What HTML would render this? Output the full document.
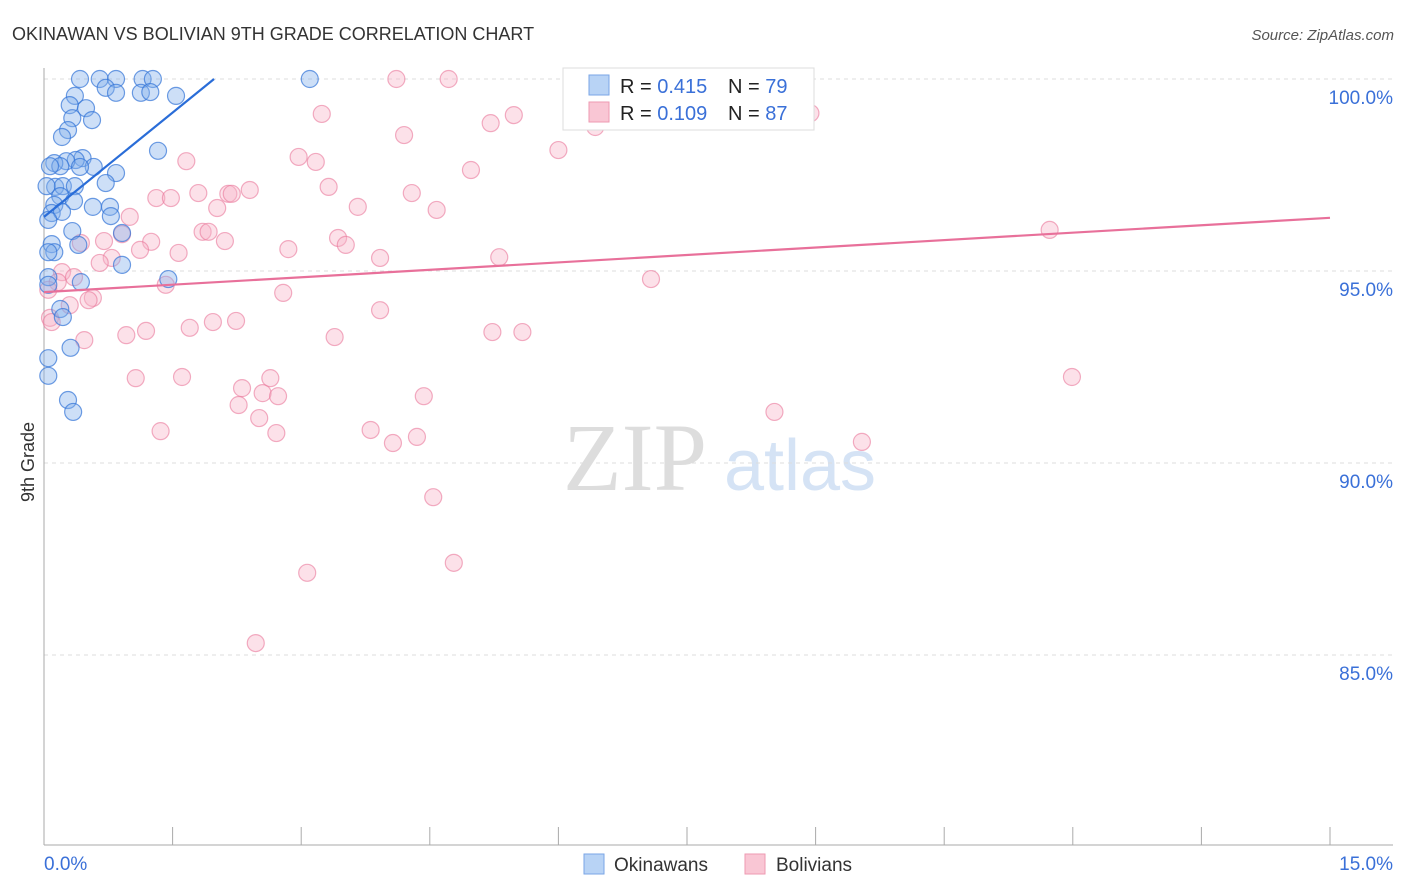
<!DOCTYPE html>
<html><head><meta charset="utf-8">
<style>
body{margin:0;background:#fff;font-family:"Liberation Sans",sans-serif;}
#wrap{position:relative;width:1406px;height:892px;overflow:hidden;}
</style></head>
<body>
<div id="wrap">
<svg id="svg" width="1406" height="892" xmlns="http://www.w3.org/2000/svg">
<text x="12" y="40" font-size="18" fill="#333">OKINAWAN VS BOLIVIAN 9TH GRADE CORRELATION CHART</text>
<text x="1394" y="40" font-size="15" fill="#555" font-style="italic" text-anchor="end">Source: ZipAtlas.com</text>
<text x="34" y="462" font-size="18" fill="#333" text-anchor="middle" transform="rotate(-90 34 462)">9th Grade</text>
<g>
<text x="635" y="490" font-size="96" fill="#ddd" text-anchor="middle" font-family="Liberation Serif, serif">ZIP</text>
<text x="800" y="490" font-size="72" fill="#d5e3f5" text-anchor="middle">atlas</text>
</g>
<g id="grid"></g>
<g id="axes"></g>
<g id="pts"></g>
<g id="lines"></g>
<g>
<rect x="563" y="68" width="251" height="62" fill="#fff" stroke="#ddd"/>
<rect x="589" y="75" width="20" height="20" fill="#b8d3f5" stroke="#7aa6e6"/>
<text x="620" y="93" font-size="20" fill="#222">R = <tspan fill="#3a70d8">0.415</tspan></text>
<text x="728" y="93" font-size="20" fill="#222">N = <tspan fill="#3a70d8">79</tspan></text>
<rect x="589" y="102" width="20" height="20" fill="#f9c6d4" stroke="#ee9ab2"/>
<text x="620" y="120" font-size="20" fill="#222">R = <tspan fill="#3a70d8">0.109</tspan></text>
<text x="728" y="120" font-size="20" fill="#222">N = <tspan fill="#3a70d8">87</tspan></text>
</g>
<g>
<rect x="584" y="854" width="20" height="20" fill="#b8d3f5" stroke="#7aa6e6"/>
<text x="614" y="871" font-size="19" fill="#333">Okinawans</text>
<rect x="745" y="854" width="20" height="20" fill="#f9c6d4" stroke="#ee9ab2"/>
<text x="776" y="871" font-size="19" fill="#333">Bolivians</text>
</g>
</svg>
</div>
<script>
const yTicks=[100,95,90,85];
const yTickLabels=["100.0%","95.0%","90.0%","85.0%"];
const xTickVals=[0,1.5,3,4.5,6,7.5,9,10.5,12,13.5,15];
const xEndLabels=["0.0%","15.0%"];
const blueX=[0.42,0.65,0.84,1.15,1.27,3.10,0.72,0.84,1.13,1.24,1.54,0.36,0.30,0.49,0.56,0.33,0.28,0.21,1.33,0.45,0.37,0.26,0.12,0.19,0.58,0.42,0.84,0.72,0.13,0.22,0.36,0.19,0.35,0.12,0.57,0.77,0.09,0.21,0.78,0.05,0.33,0.91,0.40,0.09,0.12,0.05,0.91,1.45,0.43,0.05,0.05,0.19,0.22,0.31,0.05,0.05,0.28,0.34,0.07,0.03];
const blueY=[100,100,100,100,100,100,99.77,99.64,99.64,99.66,99.56,99.56,99.32,99.24,98.93,98.98,98.67,98.49,98.13,97.94,97.89,97.86,97.81,97.73,97.71,97.71,97.55,97.29,97.19,97.21,97.21,96.95,96.82,96.72,96.67,96.67,96.51,96.54,96.43,96.33,96.04,95.99,95.68,95.70,95.49,95.49,95.16,94.79,94.71,94.84,94.64,94.01,93.80,93.00,92.73,92.27,91.64,91.33,97.73,97.21];
const pinkX=[6.36,4.11,4.72,8.08,8.94,3.24,5.48,5.21,4.20,6.43,6.00,1.66,2.97,3.17,4.98,3.32,4.29,2.40,1.80,2.15,2.19,1.31,1.48,3.66,2.02,4.58,1.00,0.91,1.85,1.92,3.43,1.25,0.70,0.43,2.11,3.52,2.85,1.12,1.57,0.79,3.92,5.31,0.65,0.21,0.35,0.16,1.42,2.79,0.57,0.52,0.30,0.07,0.09,0.47,0.96,1.19,1.70,1.97,2.24,3.39,5.23,5.58,3.92,7.08,11.73,1.07,1.61,2.31,2.64,2.55,2.73,2.27,4.43,2.51,3.81,2.71,1.36,4.07,4.35,8.52,9.54,11.99,4.54,3.07,4.78,2.47,0.05];
const pinkY=[100,100,100,100,99.11,99.09,99.06,98.85,98.54,98.75,98.15,97.86,97.97,97.84,97.63,97.19,97.03,97.11,97.03,97.01,97.01,96.90,96.90,96.67,96.64,96.59,96.41,95.96,96.02,96.02,95.86,95.76,95.78,95.73,95.78,95.68,95.57,95.55,95.47,95.34,95.34,95.36,95.21,94.97,94.84,94.71,94.64,94.43,94.30,94.24,94.11,93.78,93.67,93.20,93.33,93.44,93.52,93.67,93.70,93.28,93.41,93.41,93.98,94.79,96.07,92.21,92.24,91.95,92.21,91.82,91.74,91.51,91.74,91.17,90.86,90.78,90.83,90.52,90.68,91.33,90.55,92.24,89.11,87.14,87.40,85.31,94.51];
const blueTrend=[96.41,1.81];
const pinkTrend=[94.45,0.129];
const NS="http://www.w3.org/2000/svg";
const X=v=>44+v*(1286/15);
const Y=v=>79+(100-v)*38.4;
function mk(tag,attrs,parent){const e=document.createElementNS(NS,tag);for(const k in attrs)e.setAttribute(k,attrs[k]);parent.appendChild(e);return e;}
const grid=document.getElementById('grid'),axes=document.getElementById('axes'),pts=document.getElementById('pts'),lines=document.getElementById('lines');
yTicks.forEach((t,i)=>{
 const l=mk('line',{x1:44,x2:1393,y1:Y(t),y2:Y(t),stroke:'#ddd','stroke-dasharray':'4,4'},grid);
 
 
 const tx=mk('text',{x:1393,y:Y(t)+25,'font-size':19,fill:'#3a70d8','text-anchor':'end'},axes);
 tx.textContent=yTickLabels[i];
 
 
});
const ya=mk('line',{x1:44,x2:44,y1:68,y2:845,stroke:'#aaa'},axes);


const xa=mk('line',{x1:44,x2:1393,y1:845,y2:845,stroke:'#aaa'},axes);


xTickVals.forEach(v=>{
 const t=mk('line',{x1:X(v),x2:X(v),y1:827,y2:845,stroke:'#aaa'},axes);
 
 
});
const xl0=mk('text',{x:44,y:870,'font-size':19,fill:'#3a70d8'},axes);xl0.textContent=xEndLabels[0];


const xl1=mk('text',{x:1393,y:870,'font-size':19,fill:'#3a70d8','text-anchor':'end'},axes);xl1.textContent=xEndLabels[1];


pinkX.forEach((v,i)=>{
 const c=mk('circle',{cx:X(v),cy:Y(pinkY[i]),r:8.5,fill:'rgba(248,180,200,0.4)',stroke:'rgba(234,120,155,0.6)','stroke-width':1.2},pts);
 
 
});
blueX.forEach((v,i)=>{
 const c=mk('circle',{cx:X(v),cy:Y(blueY[i]),r:8.5,fill:'rgba(130,175,235,0.4)',stroke:'rgba(50,115,215,0.7)','stroke-width':1.2},pts);
 
 
});
const bx1=(100-blueTrend[0])/blueTrend[1];
const bl=mk('line',{x1:X(0),y1:Y(blueTrend[0]),x2:X(bx1),y2:Y(100),stroke:'#2a6dd8','stroke-width':2.2},lines);


const pl=mk('line',{x1:X(0),y1:Y(pinkTrend[0]),x2:X(15),y2:Y(pinkTrend[0]+15*pinkTrend[1]),stroke:'#e8709a','stroke-width':2.2},lines);


</script>
</body></html>
